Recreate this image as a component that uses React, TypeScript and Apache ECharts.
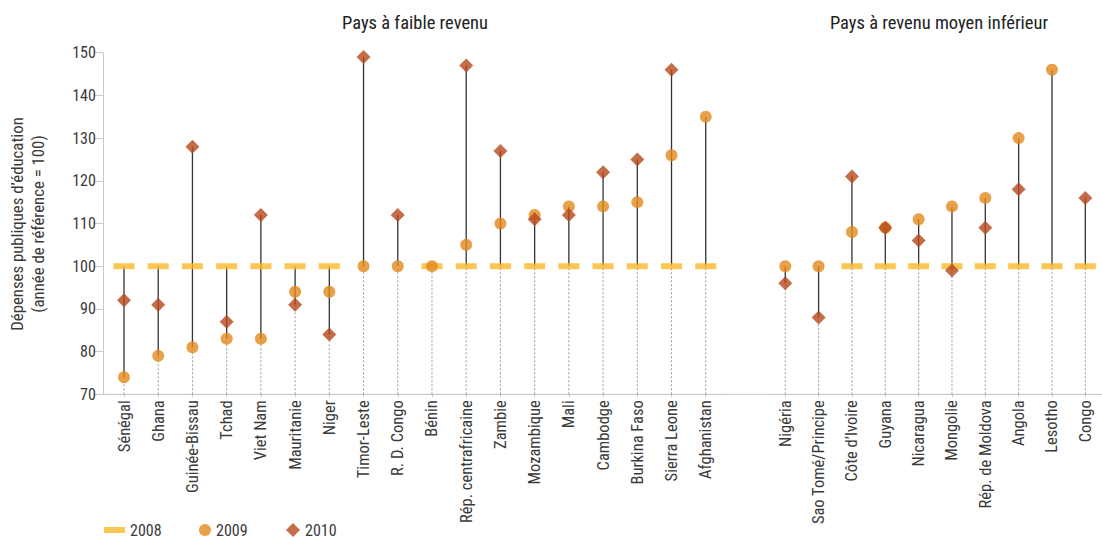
import React, { useEffect, useRef } from "react";
import * as echarts from "echarts";

const lowCountries = [
  "Sénégal", "Ghana", "Guinée-Bissau", "Tchad", "Viet Nam", "Mauritanie", "Niger",
  "Timor-Leste", "R. D. Congo", "Bénin", "Rép. centrafricaine", "Zambie", "Mozambique",
  "Mali", "Cambodge", "Burkina Faso", "Sierra Leone", "Afghanistan",
];
const low2008 = [100, 100, 100, 100, 100, 100, 100, null, null, 100, 100, 100, 100, 100, 100, 100, 100, 100];
const low2009 = [74, 79, 81, 83, 83, 94, 94, 100, 100, 100, 105, 110, 112, 114, 114, 115, 126, 135];
const low2010 = [92, 91, 128, 87, 112, 91, 84, 149, 112, null, 147, 127, 111, 112, 122, 125, 146, null];

const midCountries = [
  "Nigéria", "Sao Tomé/Principe", "Côte d’Ivoire", "Guyana", "Nicaragua", "Mongolie",
  "Rép. de Moldova", "Angola", "Lesotho", "Congo",
];
const mid2008 = [null, null, 100, 100, 100, 100, 100, 100, 100, 100];
const mid2009 = [100, 100, 108, 109, 111, 114, 116, 130, 146, null];
const mid2010 = [96, 88, 121, 109, 106, 99, 109, 118, null, 116];

const yTicks = [70, 80, 90, 100, 110, 120, 130, 140, 150];
const groupTitles = ["Pays à faible revenu", "Pays à revenu moyen inférieur"];
const yNameLines = ["Dépenses publiques d’éducation", "(année de référence = 100)"];
const years = ["2008", "2009", "2010"];

const FONT = '"Liberation Sans Narrow", "Roboto Condensed", "DejaVu Sans Condensed", "Noto Sans", sans-serif';
const C08 = "#FBB82B";
const C09 = "#E2881B";
const C10 = "#B5491A";
const AXIS = "#c8c8c8";
const TXT = "#3a3a3a";
const Y_MIN = yTicks[0];
const Y_MAX = yTicks[yTicks.length - 1];

const GRID_TOP = 52.7;
const GRID_H = 341.6;
const BAND = 34.22;

function stems(a: (number | null)[], b: (number | null)[], c: (number | null)[]) {
  return a.map((_, i) => {
    const vals = [a[i], b[i], c[i]].filter((v) => v != null) as number[];
    return [i, Math.min(...vals), Math.max(...vals)];
  });
}
const toData = (arr: (number | null)[]) => arr.map((v) => (v == null ? "-" : v));

const renderStem = (params: any, api: any) => {
  const i = api.value(0);
  const lo = api.value(1);
  const hi = api.value(2);
  const pLo = api.coord([i, lo]);
  const pHi = api.coord([i, hi]);
  const pB = api.coord([i, Y_MIN]);
  return {
    type: "group",
    children: [
      {
        type: "line",
        shape: { x1: pB[0], y1: pB[1], x2: pLo[0], y2: pLo[1] },
        style: { stroke: "#9a9a9a", lineWidth: 1, lineDash: [2, 2] },
      },
      {
        type: "line",
        shape: { x1: pLo[0], y1: pLo[1], x2: pHi[0], y2: pHi[1] },
        style: { stroke: "#333333", lineWidth: 1.3 },
      },
    ],
  };
};

function seriesFor(gi: number, d08: any[], d09: any[], d10: any[]) {
  return [
    {
      type: "custom",
      xAxisIndex: gi,
      yAxisIndex: gi,
      renderItem: renderStem,
      encode: { x: 0, y: [1, 2] },
      data: stems(d08, d09, d10),
      silent: true,
      z: 1,
    },
    {
      name: years[0],
      type: "scatter",
      xAxisIndex: gi,
      yAxisIndex: gi,
      symbol: "rect",
      symbolSize: [21, 6],
      itemStyle: { color: C08 },
      data: toData(d08),
      z: 2,
    },
    {
      name: years[1],
      type: "scatter",
      xAxisIndex: gi,
      yAxisIndex: gi,
      symbol: "circle",
      symbolSize: 12,
      itemStyle: { color: C09 },
      data: toData(d09),
      z: 3,
    },
    {
      name: years[2],
      type: "scatter",
      xAxisIndex: gi,
      yAxisIndex: gi,
      symbol: "diamond",
      symbolSize: 14,
      itemStyle: { color: C10 },
      data: toData(d10),
      z: 4,
    },
  ];
}

const xAxisFor = (gi: number, data: string[]) => ({
  type: "category",
  gridIndex: gi,
  data,
  boundaryGap: true,
  axisLine: { show: true, lineStyle: { color: AXIS, width: 1 } },
  axisTick: { show: true, alignWithLabel: true, length: 3, lineStyle: { color: AXIS } },
  axisLabel: { rotate: 90, margin: 6, fontSize: 16.5, color: TXT, fontFamily: FONT, interval: 0 },
  splitLine: { show: false },
});

const yAxisFor = (gi: number) => ({
  type: "value",
  gridIndex: gi,
  min: Y_MIN,
  max: Y_MAX,
  interval: 10,
  show: gi === 0,
  offset: 4,
  axisLine: { show: true, lineStyle: { color: AXIS } },
  axisTick: { show: true, length: 8, lineStyle: { color: AXIS } },
  axisLabel: { fontSize: 16, color: TXT, fontFamily: FONT, margin: 7 },
  splitLine: { show: false },
});

const legendText = { fontSize: 16, color: TXT, fontFamily: FONT, lineHeight: 16 };

export default function App() {
  const ref = useRef<HTMLDivElement>(null);
  useEffect(() => {
    if (!ref.current) return;
    const chart = echarts.init(ref.current, null, { renderer: "svg" });
    const leftEdge = 124 - BAND / 2;
    const rightEdge = 785.7 - BAND / 2;
    chart.setOption({
      animation: false,
      textStyle: { fontFamily: FONT },
      grid: [
        { left: leftEdge, top: GRID_TOP, width: BAND * lowCountries.length, height: GRID_H, containLabel: false },
        { left: rightEdge, top: GRID_TOP, width: BAND * midCountries.length, height: GRID_H, containLabel: false },
      ],
      xAxis: [xAxisFor(0, lowCountries), xAxisFor(1, midCountries)],
      yAxis: [yAxisFor(0), yAxisFor(1)],
      legend: [
        {
          data: [{ name: years[0], icon: "rect" }],
          left: 104, top: 522, padding: 0, itemWidth: 21, itemHeight: 6,
          textStyle: legendText,
          selectedMode: false,
        },
        {
          data: [{ name: years[1], icon: "circle" }],
          left: 199, top: 522, padding: 0, itemWidth: 12, itemHeight: 12,
          textStyle: legendText,
          selectedMode: false,
        },
        {
          data: [{ name: years[2], icon: "diamond" }],
          left: 286, top: 522, padding: 0, itemWidth: 14, itemHeight: 14,
          textStyle: legendText,
          selectedMode: false,
        },
      ],
      graphic: [
        {
          type: "line",
          shape: { x1: 103, y1: GRID_TOP + GRID_H, x2: 1102, y2: GRID_TOP + GRID_H },
          style: { stroke: AXIS, lineWidth: 1 },
          z: 0,
          silent: true,
        },
        {
          type: "text",
          x: 415, y: 23,
          style: { text: groupTitles[0], fontSize: 18.5, fill: "#222", fontFamily: FONT, textAlign: "center", textVerticalAlign: "middle" },
        },
        {
          type: "text",
          x: 939, y: 23,
          style: { text: groupTitles[1], fontSize: 18.5, fill: "#222", fontFamily: FONT, textAlign: "center", textVerticalAlign: "middle" },
        },
        {
          type: "text",
          x: 17, y: 224, rotation: Math.PI / 2,
          style: { text: yNameLines[0], fontSize: 16.8, fill: TXT, fontFamily: FONT, textAlign: "center", textVerticalAlign: "middle" },
        },
        {
          type: "text",
          x: 38, y: 224, rotation: Math.PI / 2,
          style: { text: yNameLines[1], fontSize: 16.8, fill: TXT, fontFamily: FONT, textAlign: "center", textVerticalAlign: "middle" },
        },
      ],
      series: [
        ...seriesFor(0, low2008, low2009, low2010),
        ...seriesFor(1, mid2008, mid2009, mid2010),
      ],
    });
    return () => chart.dispose();
  }, []);
  return (
    <div
      ref={ref}
      style={{ position: "fixed", left: 0, top: 0, width: 1102, height: 539, background: "#fff" }}
    />
  );
}
